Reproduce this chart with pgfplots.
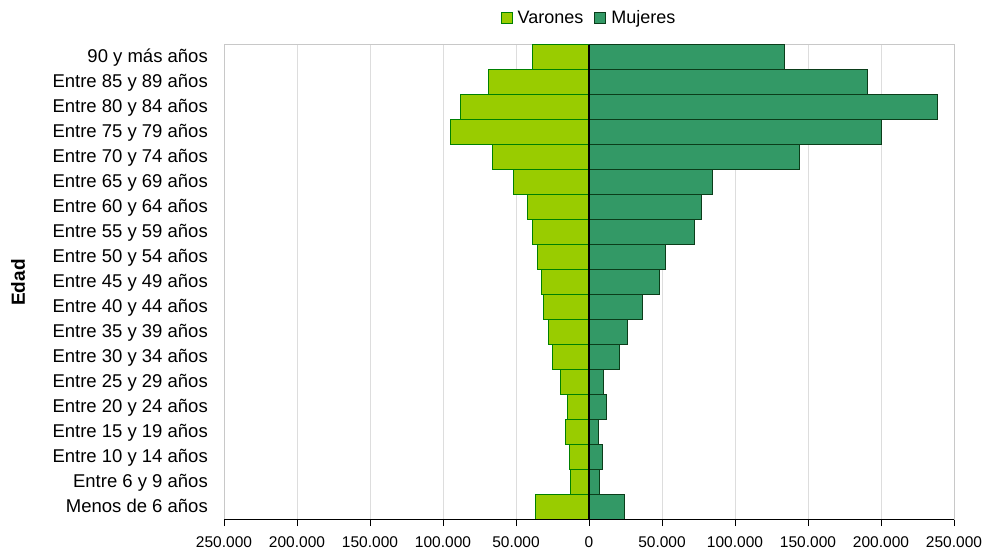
\documentclass[border=0pt]{standalone}
\usepackage{pgfplots}
\pgfplotsset{compat=1.18}
\usepackage{fontspec}
\setmainfont{Liberation Sans}
\definecolor{varfill}{HTML}{99CC00}
\definecolor{varedge}{HTML}{008000}
\definecolor{mujfill}{HTML}{339966}
\definecolor{mujedge}{HTML}{0B3D1A}
\definecolor{frame}{HTML}{C8C8C8}
\definecolor{gridc}{HTML}{DDDDDD}
\begin{document}
\begin{tikzpicture}
\begin{axis}[
  at={(224bp,35bp)}, anchor=south west,
  width=730bp, height=475bp, scale only axis,
  xmin=-250000, xmax=250000,
  ymin=-0.5, ymax=18.5,
  scaled x ticks=false,
  xtick={-250000,-200000,-150000,-100000,-50000,0,50000,100000,150000,200000,250000},
  xticklabels={250.000,200.000,150.000,100.000,50.000,0,50.000,100.000,150.000,200.000,250.000},
  ytick={0,...,18},
  yticklabels={Menos de 6 años,Entre 6 y 9 años,Entre 10 y 14 años,Entre 15 y 19 años,Entre 20 y 24 años,Entre 25 y 29 años,Entre 30 y 34 años,Entre 35 y 39 años,Entre 40 y 44 años,Entre 45 y 49 años,Entre 50 y 54 años,Entre 55 y 59 años,Entre 60 y 64 años,Entre 65 y 69 años,Entre 70 y 74 años,Entre 75 y 79 años,Entre 80 y 84 años,Entre 85 y 89 años,90 y más años},
  xtick pos=bottom, ytick pos=left,
  tick align=outside,
  major tick length=6bp,
  y tick style={draw=none},
  x tick style={black, line width=1bp},
  yticklabel style={font=\fontsize{18.5bp}{20bp}\selectfont, anchor=base east, inner sep=0pt, yshift=-5.2bp, xshift=-10bp},
  xticklabel style={font=\fontsize{15.5bp}{17bp}\selectfont, inner sep=0pt, yshift=-10bp},
  axis line style={draw=frame, line width=1bp},
  xmajorgrids, grid style={gridc, line width=1bp},
  ylabel={\textbf{Edad}},
  ylabel style={font=\fontsize{19bp}{21bp}\selectfont, at={(axis description cs:-0.282,0.5)}, anchor=center},
  xbar, bar width=1, bar shift=0pt,
  legend style={at={(axis description cs:0.5,1.057)}, anchor=center, draw=none, fill=none,
    font=\fontsize{18bp}{20bp}\selectfont, legend columns=2,
    /tikz/every odd column/.append style={column sep=3bp},
    /tikz/every even column/.append style={column sep=9bp},
    legend cell align=left, inner sep=0pt},
  legend image code/.code={\draw[#1, line width=1bp] (0bp,-5.5bp) rectangle (11bp,5.5bp);},
]
\addplot[fill=varfill, draw=varedge, line width=1bp] coordinates {
(-36500,0) (-12800,1) (-13700,2) (-15800,3) (-14600,4) (-19700,5) (-24700,6) (-27400,7) (-31500,8) (-32400,9)
(-35400,10) (-38400,11) (-42300,12) (-52000,13) (-66000,14) (-94700,15) (-87900,16) (-69000,17) (-38400,18)};
\addlegendentry{Varones}
\addplot[fill=mujfill, draw=mujedge, line width=1bp] coordinates {
(24000,0) (7100,1) (9100,2) (6200,3) (11900,4) (10000,5) (20800,6) (26700,7) (36500,8) (48200,9)
(52300,10) (72100,11) (76900,12) (84900,13) (144000,14) (200500,15) (238800,16) (190600,17) (134200,18)};
\addlegendentry{Mujeres}
\draw[black, line width=1.3bp] (axis cs:0,-0.5) -- (axis cs:0,18.5);
\draw[black, line width=1.3bp] (rel axis cs:0,0) -- (rel axis cs:1,0);
\end{axis}
\pgfresetboundingbox
\path (0,0) rectangle (985bp,555bp);
\end{tikzpicture}
\end{document}
